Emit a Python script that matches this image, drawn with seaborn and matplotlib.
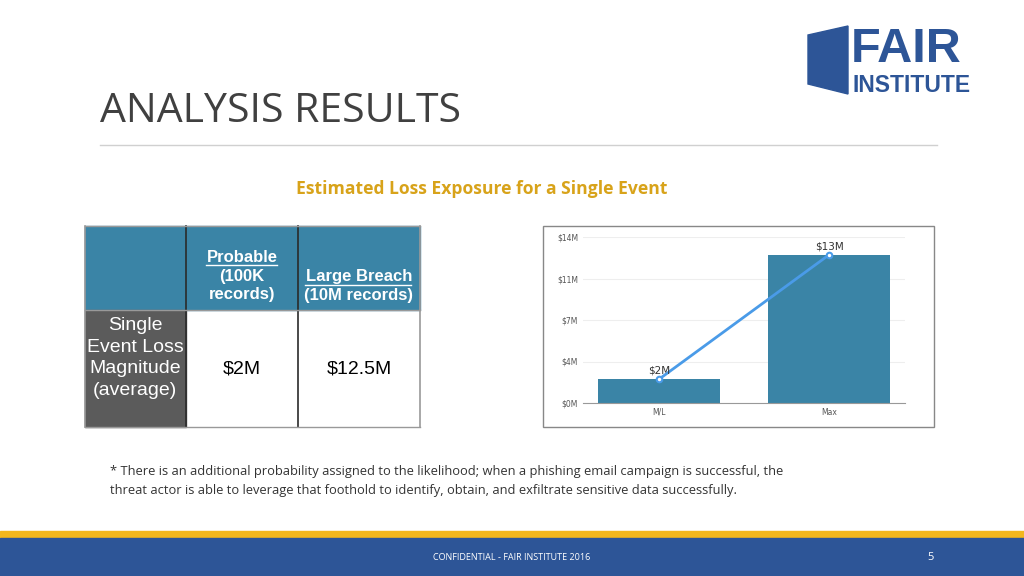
import matplotlib
matplotlib.use("Agg")
import matplotlib.pyplot as plt
import matplotlib.patches as mpatches
import seaborn as sns
import pandas as pd

# ---- data ----
categories = ["M/L", "Max"]
loss_values = [2.0, 12.5]
point_labels = ["$2M", "$13M"]
ytick_values = [0, 3.5, 7, 10.5, 14]
ytick_labels = ["$0M", "$4M", "$7M", "$11M", "$14M"]
table_headers = ["Probable\n(100K\nrecords)", "Large Breach\n(10M records)"]
table_row_label = "Single\nEvent Loss\nMagnitude\n(average)"
table_values = ["$2M", "$12.5M"]

BAR = "#3a84a6"
LINE = "#4a9be8"
NAVY = "#2d5597"

fig = plt.figure(figsize=(10.24, 5.76), dpi=100)
bg = fig.add_axes([0, 0, 1, 1])
bg.set_xlim(0, 1024)
bg.set_ylim(576, 0)
bg.axis("off")

# title and rule
bg.text(100, 112, "ANALYSIS RESULTS", fontsize=29.5, color="#404040",
        family="Open Sans", va="center", ha="left")
bg.plot([100, 937], [145, 145], color="#d0d0d0", lw=1)
bg.text(482, 189, "Estimated Loss Exposure for a Single Event", fontsize=12.6,
        color="#d8a31a", weight="bold", family="Open Sans", ha="center", va="center")

# logo
bg.add_patch(mpatches.Polygon([[808, 35], [848, 26], [848, 94], [808, 84]], color=NAVY))
bg.text(851, 62, "FAIR", fontsize=35, weight="bold", color=NAVY, family="Liberation Sans",
        va="baseline", ha="left")
bg.text(853, 92, "INSTITUTE", fontsize=16.5, weight="bold", color=NAVY, family="Liberation Sans",
        va="baseline", ha="left")

# footnote
bg.text(110, 481, "* There is an additional probability assigned to the likelihood; when a phishing email campaign is successful, the\n"
        "threat actor is able to leverage that foothold to identify, obtain, and exfiltrate sensitive data successfully.",
        fontsize=9.3, color="#333333", family="Open Sans", va="center", ha="left", linespacing=1.6)

# footer bands
bg.add_patch(mpatches.Rectangle((0, 531), 1024, 7, color="#f2b71d"))
bg.add_patch(mpatches.Rectangle((0, 538), 1024, 38, color=NAVY))
bg.text(512, 558, "CONFIDENTIAL - FAIR INSTITUTE 2016", fontsize=6.5, color="white",
        family="Open Sans", ha="center", va="center")
bg.text(931, 558, "5", fontsize=8, color="white", family="Open Sans", ha="center", va="center")

# ---- table ----
cols = [85, 186, 298, 420]
rows = [226, 310, 427]
bg.add_patch(mpatches.Rectangle((85, 226), 335, 84, color=BAR))
bg.add_patch(mpatches.Rectangle((85, 310), 101, 117, color="#5b5b5b"))
for x in cols:
    bg.plot([x, x], [226, 427], color="#2a2a2a" if x in (186, 298) else "#999999", lw=1.2)
for y in rows:
    bg.plot([85, 420], [y, y], color="#999999", lw=1)
hdr_centers = [(cols[1] + cols[2]) / 2, (cols[2] + cols[3]) / 2]
hdr_y = [276, 286]
for cx, cy, txt in zip(hdr_centers, hdr_y, table_headers):
    bg.text(cx, cy, txt, fontsize=12, weight="bold", color="white", family="Liberation Sans",
            ha="center", va="center", linespacing=1.3)
bg.plot([206, 277], [265, 265], color="white", lw=1)
bg.plot([305, 411], [285, 285], color="white", lw=1)
bg.text(135, 358, table_row_label, fontsize=14, color="white", family="Liberation Sans",
        ha="center", va="center", linespacing=1.35)
for cx, txt in zip(hdr_centers, table_values):
    bg.text(cx, 369, txt, fontsize=14, color="black", family="Liberation Sans",
            ha="center", va="center")

# ---- chart ----
bg.add_patch(mpatches.Rectangle((543, 226), 391, 201, fill=False, ec="#888888", lw=1))
ax = fig.add_axes([583 / 1024, 1 - 403 / 576, 322 / 1024, 166 / 576])
df = pd.DataFrame({"category": categories, "loss": loss_values})
sns.barplot(data=df, x="category", y="loss", color=BAR, saturation=1, width=0.72, ax=ax)
ax.plot(range(len(categories)), loss_values, color=LINE, lw=2, marker="o",
        markersize=4, markerfacecolor="white", markeredgecolor=LINE, markeredgewidth=1.5)
for i, (v, lab) in enumerate(zip(loss_values, point_labels)):
    ax.text(i, v + 0.3, lab, ha="center", va="bottom", fontsize=7.5, color="#333333")
ax.set_ylim(0, 14)
ax.set_yticks(ytick_values)
ax.set_yticklabels(ytick_labels)
ax.set_xlabel("")
ax.set_ylabel("")
ax.tick_params(labelsize=5.5, colors="#555555", length=0)
ax.grid(axis="y", color="#eeeeee", lw=0.8)
ax.set_axisbelow(True)
for s in ["top", "right", "left"]:
    ax.spines[s].set_visible(False)
ax.spines["bottom"].set_color("#999999")

fig.savefig("out.png", dpi=100)
